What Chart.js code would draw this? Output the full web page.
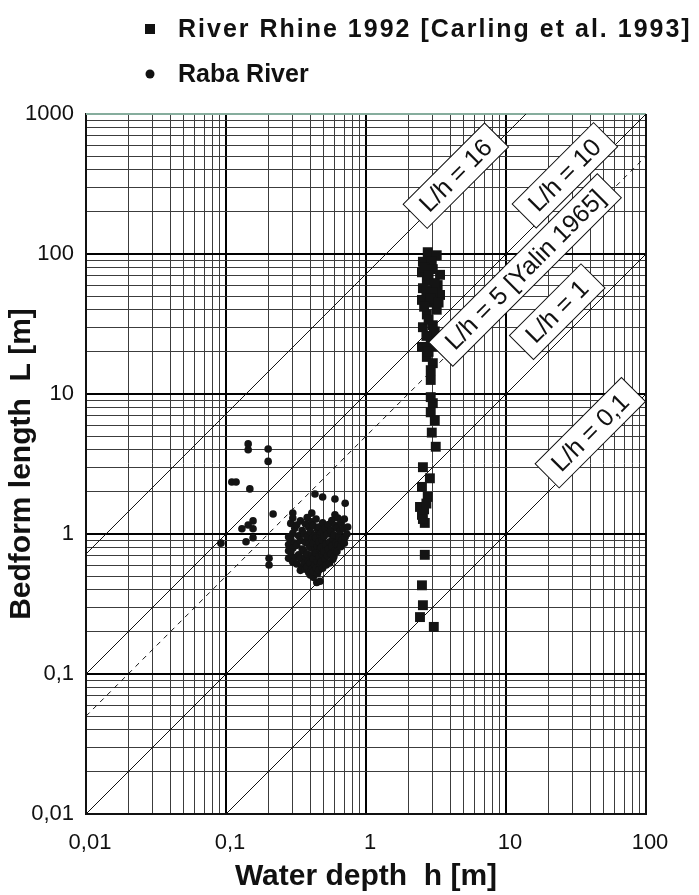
<!DOCTYPE html>
<html>
<head>
<meta charset="utf-8">
<script src="https://cdn.jsdelivr.net/npm/chart.js@4.4.0/dist/chart.umd.min.js"></script>
<style>
  html, body { margin: 0; padding: 0; background: #fff; }
  #wrap { width: 699px; height: 895px; }
</style>
</head>
<body>
<div id="wrap"><canvas id="myChart" width="699" height="895"></canvas></div>
<script>
// River Rhine 1992 (squares): water depth h [m], bedform length L [m]
const rhineDepth = [
  2.76, 3.2, 2.55, 2.95, 2.51, 3.38, 2.72, 3.25, 2.55, 3.38,
  2.51, 2.86, 3.2, 2.72, 2.55, 3.0, 2.9, 2.51, 2.76, 2.72,
  3.0, 2.9, 2.9, 3.0, 2.9, 3.1, 2.95, 3.15, 2.55, 2.86,
  2.51, 2.76, 2.43, 2.51, 2.63, 2.63, 2.51, 2.55, 2.43, 3.05,
  2.6, 3.0, 2.8, 3.1, 2.7, 3.0, 2.9, 3.3, 2.6, 2.8,
  3.1, 2.7, 3.0, 2.8, 2.6, 2.7, 2.55, 2.9
];
const rhineLength = [
  103, 98, 88, 88, 74, 71, 65, 60, 57, 51,
  47, 45, 40, 37, 30, 31, 25.5, 21.7, 21.7, 18.4,
  16.6, 14.8, 12.6, 8.6, 7.4, 6.5, 5.3, 4.2, 3.0, 2.5,
  2.17, 1.84, 1.56, 1.37, 1.2, 0.71, 0.43, 0.31, 0.255, 0.217,
  80, 78, 70, 62, 55, 53, 48, 45, 42, 34,
  28, 26, 22, 20, 1.5, 1.65, 1.28, 9.5
];

// Raba River (dots)
const rabaDepth = [
  0.144, 0.144, 0.2, 0.2, 0.110, 0.118, 0.148, 0.217, 0.156, 0.144, 0.130, 0.156, 0.156, 0.139, 0.092, 0.203, 0.203,
  0.432, 0.49, 0.60, 0.71, 0.30, 0.41, 0.60, 0.42, 0.445, 0.47, 0.43, 0.28, 0.28, 0.28, 0.28,
  0.30, 0.29, 0.31, 0.30, 0.29, 0.31, 0.30, 0.29, 0.31, 0.30,
  0.32, 0.33, 0.32, 0.33, 0.32,
  0.34, 0.35, 0.34, 0.35, 0.34, 0.35, 0.34,
  0.37, 0.36, 0.37, 0.36, 0.37, 0.36, 0.37,
  0.38, 0.39, 0.38, 0.39, 0.38, 0.39, 0.38, 0.39,
  0.41, 0.40, 0.41, 0.40, 0.41, 0.40, 0.41, 0.40,
  0.42, 0.43, 0.42, 0.43, 0.42, 0.43, 0.42,
  0.44, 0.45, 0.44, 0.45, 0.44, 0.45, 0.44, 0.45,
  0.46, 0.47, 0.46, 0.47, 0.46, 0.47, 0.46,
  0.49, 0.48, 0.49, 0.48, 0.49, 0.48, 0.49,
  0.51, 0.50, 0.52, 0.50, 0.51, 0.52,
  0.54, 0.53, 0.55, 0.54, 0.53, 0.55,
  0.57, 0.56, 0.58, 0.57, 0.56, 0.58,
  0.60, 0.59, 0.61, 0.60, 0.59,
  0.63, 0.62, 0.64, 0.63, 0.62,
  0.66, 0.65, 0.67, 0.66,
  0.70, 0.69, 0.71, 0.70,
  0.74, 0.73
];
const rabaLength = [
  4.4, 4.0, 4.05, 3.3, 2.35, 2.35, 2.1, 1.39, 1.24, 1.16, 1.09, 1.09, 0.94, 0.88, 0.86, 0.67, 0.60,
  1.93, 1.84, 1.78, 1.66, 1.41, 1.41, 1.37, 0.49, 0.45, 0.46, 0.52, 0.95, 0.84, 0.76, 0.67,
  1.30, 1.19, 1.10, 1.01, 0.93, 0.86, 0.79, 0.74, 0.68, 0.63,
  1.16, 0.97, 0.83, 0.71, 0.61,
  1.24, 1.06, 0.90, 0.78, 0.67, 0.58, 0.55,
  1.18, 1.00, 0.87, 0.76, 0.69, 0.62, 0.56,
  1.31, 1.12, 0.95, 0.84, 0.72, 0.64, 0.58, 0.53,
  1.22, 1.04, 0.92, 0.80, 0.70, 0.62, 0.56, 0.51,
  1.15, 0.98, 0.86, 0.76, 0.67, 0.60, 0.54,
  1.28, 1.08, 0.94, 0.82, 0.73, 0.64, 0.57, 0.52,
  1.12, 0.99, 0.88, 0.78, 0.69, 0.61, 0.55,
  1.20, 1.03, 0.90, 0.80, 0.71, 0.63, 0.57,
  1.10, 0.96, 0.85, 0.75, 0.66, 0.60,
  1.17, 1.00, 0.88, 0.78, 0.70, 0.62,
  1.25, 1.06, 0.93, 0.82, 0.72, 0.66,
  1.15, 0.98, 0.86, 0.76, 0.69,
  1.30, 1.10, 0.95, 0.83, 0.75,
  1.20, 1.05, 0.90, 0.81,
  1.28, 1.10, 0.95, 0.86,
  1.12, 1.00
];

// reference lines L = ratio * h, as drawn in the figure
const lineLabels = ['L/h = 16', 'L/h = 10', 'L/h = 5 [Yalin 1965]', 'L/h = 1', 'L/h = 0,1'];
const lineRatios = [72, 10, 5, 1, 0.1];
const lineDashed = [false, false, true, false, false];
const lineLabelDepth = [4.7, 31, 14.5, 30, 46]; // where each label box sits along its line
const lineLabelShift = [6, 14, 5, 22, 12];      // px, pushed up-left off the line

const xTickValues = [0.01, 0.1, 1, 10, 100];
const xTickLabels = ['0,01', '0,1', '1', '10', '100'];
const yTickValues = [0.01, 0.1, 1, 10, 100, 1000];
const yTickLabels = ['0,01', '0,1', '1', '10', '100', '1000'];

const legendLabels = ['River Rhine 1992 [Carling et al. 1993]', 'Raba River'];

const FONT = '"Liberation Sans", Arial, Helvetica, sans-serif';
const X_MIN = 0.01, X_MAX = 100, Y_MIN = 0.01, Y_MAX = 1000;

function isDecade(v) {
  const l = Math.log10(v);
  return Math.abs(l - Math.round(l)) < 1e-6;
}

// 1..9 x 10^n grid values
function logGrid(min, max) {
  const out = [];
  for (let e = Math.round(Math.log10(min)); e <= Math.round(Math.log10(max)); e++) {
    for (let m = 1; m <= 9; m++) {
      const v = Number((m * Math.pow(10, e)).toPrecision(6));
      if (v >= min - 1e-12 && v <= max + 1e-9) out.push(v);
    }
  }
  return out;
}

function tickText(values, labels, v) {
  if (!isDecade(v)) return '';
  const i = values.findIndex(t => Math.abs(Math.log10(t) - Math.log10(v)) < 1e-6);
  return i >= 0 ? labels[i] : '';
}

function pairUp(xs, ys) {
  return xs.map((x, i) => ({ x: x, y: ys[i] }));
}

// line L = r*h clipped to the plot window
const lineDatasets = lineRatios.map((r, i) => {
  const h0 = Math.max(X_MIN, Y_MIN / r);
  const h1 = Math.min(X_MAX, Y_MAX / r);
  return {
    type: 'line',
    label: lineLabels[i],
    data: [{ x: h0, y: r * h0 }, { x: h1, y: r * h1 }],
    borderColor: '#111',
    borderWidth: 1,
    borderDash: lineDashed[i] ? [5, 5] : [],
    pointRadius: 0,
    fill: false,
    order: 3
  };
});

const gridColor = c => (c.tick && isDecade(c.tick.value)) ? '#000' : '#3c3c3c';
const gridWidth = c => (c.tick && isDecade(c.tick.value)) ? 2 : 1;

// top & right frame
const framePlugin = {
  id: 'frame',
  beforeDatasetsDraw(chart) {
    const { ctx, chartArea: a } = chart;
    ctx.save();
    ctx.strokeStyle = '#111';
    ctx.lineWidth = 2;
    ctx.beginPath();
    ctx.moveTo(a.right, a.top);
    ctx.lineTo(a.right, a.bottom);
    ctx.stroke();
    ctx.strokeStyle = '#86ad9d';
    ctx.beginPath();
    ctx.moveTo(a.left, a.top);
    ctx.lineTo(a.right, a.top);
    ctx.stroke();
    ctx.restore();
  }
};

// rotated boxed labels on the reference lines
const lineLabelPlugin = {
  id: 'lineLabels',
  afterDatasetsDraw(chart) {
    const { ctx, scales: { x, y } } = chart;
    ctx.save();
    ctx.font = '25px ' + FONT;
    ctx.textAlign = 'center';
    ctx.textBaseline = 'middle';
    lineRatios.forEach((r, i) => {
      const h = lineLabelDepth[i];
      const ang = Math.atan2(y.getPixelForValue(r * X_MAX) - y.getPixelForValue(r * X_MIN),
        x.getPixelForValue(X_MAX) - x.getPixelForValue(X_MIN));
      const s = lineLabelShift[i];
      const px = x.getPixelForValue(h) + s * Math.sin(ang);
      const py = y.getPixelForValue(r * h) - s * Math.cos(ang);
      const w = ctx.measureText(lineLabels[i]).width + 24;
      const hh = 34;
      ctx.save();
      ctx.translate(px, py);
      ctx.rotate(ang);
      ctx.fillStyle = '#fff';
      ctx.strokeStyle = '#111';
      ctx.lineWidth = 1;
      ctx.fillRect(-w / 2, -hh / 2, w, hh);
      ctx.strokeRect(-w / 2, -hh / 2, w, hh);
      ctx.fillStyle = '#111';
      ctx.fillText(lineLabels[i], 0, 1);
      ctx.restore();
    });
    ctx.restore();
  }
};

// legend at the top, one entry per row
const topLegendPlugin = {
  id: 'topLegend',
  afterDraw(chart) {
    const ctx = chart.ctx;
    ctx.save();
    ctx.fillStyle = '#111';
    ctx.font = 'bold 25px ' + FONT;
    ctx.textBaseline = 'middle';
    ctx.fillRect(145, 24, 10, 10);
    ctx.letterSpacing = '2px';
    ctx.fillText(legendLabels[0], 178, 30);
    ctx.letterSpacing = '0px';
    ctx.beginPath();
    ctx.arc(150, 74, 4.5, 0, Math.PI * 2);
    ctx.fill();
    ctx.fillText(legendLabels[1], 178, 75);
    ctx.restore();
  }
};

const ctx = document.getElementById('myChart').getContext('2d');
const chart = new Chart(ctx, {
  type: 'scatter',
  data: {
    datasets: [
      {
        label: legendLabels[0],
        data: pairUp(rhineDepth, rhineLength),
        pointStyle: 'rect',
        pointRadius: 7,
        backgroundColor: '#141414',
        borderWidth: 0,
        order: 1
      },
      {
        label: legendLabels[1],
        data: pairUp(rabaDepth, rabaLength),
        pointStyle: 'circle',
        pointRadius: 3.8,
        backgroundColor: '#141414',
        borderWidth: 0,
        order: 2
      },
      ...lineDatasets
    ]
  },
  options: {
    responsive: false,
    animation: false,
    layout: { padding: { top: 114, right: 53, left: 0, bottom: 0 } },
    plugins: {
      legend: { display: false },
      tooltip: { enabled: false }
    },
    scales: {
      x: {
        type: 'logarithmic',
        position: 'bottom',
        min: X_MIN,
        max: X_MAX,
        afterBuildTicks: scale => { scale.ticks = logGrid(X_MIN, X_MAX).map(v => ({ value: v })); },
        afterFit: scale => { scale.height = 81; },
        ticks: {
          autoSkip: false,
          maxRotation: 0,
          padding: 16,
          labelOffset: 4,
          color: '#111',
          font: { family: FONT, size: 22 },
          callback: v => tickText(xTickValues, xTickLabels, v)
        },
        grid: { drawTicks: false, color: gridColor, lineWidth: gridWidth },
        border: { display: true, color: '#111', width: 2 },
        title: {
          display: true,
          text: 'Water depth  h [m]',
          color: '#111',
          font: { family: FONT, size: 30, weight: 'bold' },
          padding: { top: 0, bottom: 0 }
        }
      },
      y: {
        type: 'logarithmic',
        position: 'left',
        min: Y_MIN,
        max: Y_MAX,
        afterBuildTicks: scale => { scale.ticks = logGrid(Y_MIN, Y_MAX).map(v => ({ value: v })); },
        afterFit: scale => { scale.width = 86; },
        ticks: {
          autoSkip: false,
          padding: 12,
          color: '#111',
          font: { family: FONT, size: 22 },
          callback: v => tickText(yTickValues, yTickLabels, v)
        },
        grid: { drawTicks: false, color: gridColor, lineWidth: gridWidth },
        border: { display: true, color: '#111', width: 2 },
        title: {
          display: true,
          text: 'Bedform length  L [m]',
          color: '#111',
          font: { family: FONT, size: 30, weight: 'bold' },
          padding: { top: 4, bottom: 0 }
        }
      }
    }
  },
  plugins: [framePlugin, lineLabelPlugin, topLegendPlugin]
});
</script>
</body>
</html>
